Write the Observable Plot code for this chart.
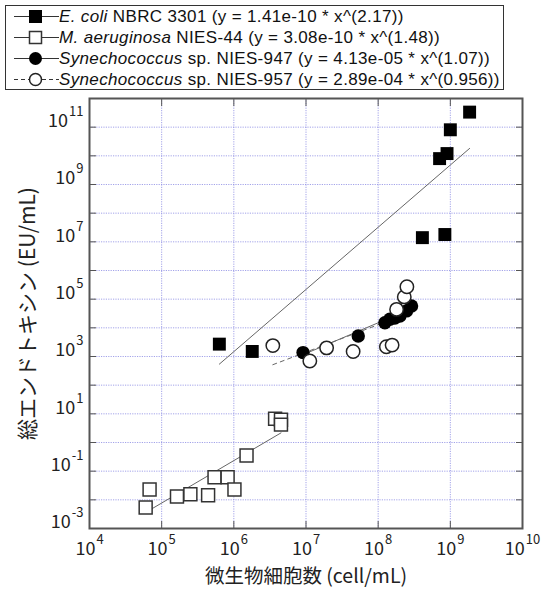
<!DOCTYPE html>
<html><head><meta charset="utf-8">
<script src="https://cdn.jsdelivr.net/npm/d3@7"></script>
<script src="https://cdn.jsdelivr.net/npm/@observablehq/plot@0.6"></script>
<style>
body{margin:0;background:#fff;}
#wrap{position:relative;width:545px;height:592px;overflow:hidden;background:#fff;}
#legend{position:absolute;left:5px;top:5px;width:497px;height:83px;border:1px solid #333;background:#fff;z-index:2;font-family:"Liberation Sans",Arial,sans-serif;font-size:17px;letter-spacing:0.35px;color:#111;}
.row{position:absolute;left:0;height:21px;line-height:21px;white-space:pre;}
.row svg{position:absolute;left:7px;top:0;}
.row span.t{position:absolute;left:53px;top:0;}
#chart{position:absolute;left:0;top:0;}
</style></head>
<body><div id="wrap"><div id="legend"></div><div id="chart"></div></div>
<script>
// ---- data ----
const ecoliX = [6.3e5, 1.8e6, 4.1e8, 8.4e8, 7.1e8, 9.0e8, 1.0e9, 1.85e9];
const ecoliY = [2.7e3, 1.5e3, 1.4e7, 1.8e7, 8.0e9, 1.2e10, 8.1e10, 3.35e11];

const maerX = [6.0e4, 6.8e4, 1.63e5, 2.5e5, 4.4e5, 5.4e5, 8.2e5, 1.02e6, 1.5e6, 3.73e6, 4.5e6, 4.5e6];
const maerY = [5.4e-3, 2.3e-2, 1.3e-2, 1.56e-2, 1.44e-2, 6.1e-2, 6.1e-2, 2.3e-2, 0.35, 6.7, 6.2, 4.2];

const syn947X = [9.1e6, 5.3e7, 1.24e8, 1.45e8, 1.7e8, 2.0e8, 2.47e8, 2.9e8];
const syn947Y = [1.37e3, 5.2e3, 1.5e4, 2.0e4, 2.2e4, 2.6e4, 3.9e4, 5.8e4];

const syn957X = [3.47e6, 1.13e7, 1.93e7, 4.5e7, 1.3e8, 1.56e8, 1.8e8, 2.3e8, 2.5e8];
const syn957Y = [2.4e3, 7.0e2, 2.0e3, 1.5e3, 2.2e3, 2.5e3, 4.4e4, 1.2e5, 2.7e5];

// power-law fits shown in the legend: y = a * x^b
const fitA = [1.41e-10, 3.08e-10, 4.13e-5, 2.89e-4];
const fitB = [2.17, 1.48, 1.07, 0.956];

const seriesItalic = ["E. coli", "M. aeruginosa", "Synechococcus", "Synechococcus"];
const seriesRest = [" NBRC 3301", " NIES-44", " sp. NIES-947", " sp. NIES-957"];
const seriesEq = ["(y = 1.41e-10 * x^(2.17))", "(y = 3.08e-10 * x^(1.48))", "(y = 4.13e-05 * x^(1.07))", "(y = 2.89e-04 * x^(0.956))"];

const xTickExp = [4, 5, 6, 7, 8, 9, 10];
const yLabelExp = [-3, -1, 1, 3, 5, 7, 9, 11];
const yGridExp = [-3,-2,-1,0,1,2,3,4,5,6,7,8,9,10,11,12];

const xTitle = "微生物細胞数 (cell/mL)";
const yTitle = "総エンドトキシン (EU/mL)";

// ---- build tables ----
const allX = [ecoliX, maerX, syn947X, syn957X];
const allY = [ecoliY, maerY, syn947Y, syn957Y];
const pts = allX.map((xs, s) => xs.map((x, i) => ({x, y: allY[s][i], s})));
const fits = allX.map((xs, s) => {
  const lo = d3.min(xs), hi = d3.max(xs);
  return [lo, hi].map(x => ({x, y: fitA[s] * Math.pow(x, fitB[s]), s}));
});
const xTicks = xTickExp.map(e => Math.pow(10, e));
const yLabelTicks = yLabelExp.map(e => Math.pow(10, e));
const yGrid = yGridExp.map(e => Math.pow(10, e));
const expFmt = d => "10^" + Math.round(Math.log10(d));

const gridStyle = {stroke: "#8c8ce4", strokeOpacity: 0.8, strokeWidth: 1, strokeDasharray: "1.2,1.2"};

const plot = Plot.plot({
  width: 545, height: 592,
  marginLeft: 89, marginRight: 23, marginTop: 98, marginBottom: 64,
  style: {fontFamily: "'Noto Sans CJK JP', 'Noto Sans', sans-serif", fontSize: "18px", color: "#222", background: "transparent", overflow: "visible"},
  x: {type: "log", domain: [1e4, 1e10]},
  y: {type: "log", domain: [1e-3, 1e12]},
  marks: [
    Plot.gridX(xTicks, gridStyle),
    Plot.gridY(yGrid, gridStyle),
    Plot.line(fits[0], {x: "x", y: "y", stroke: "#666", strokeWidth: 1}),
    Plot.line(fits[1], {x: "x", y: "y", stroke: "#666", strokeWidth: 1}),
    Plot.line(fits[2], {x: "x", y: "y", stroke: "#666", strokeWidth: 1}),
    Plot.line(fits[3], {x: "x", y: "y", stroke: "#666", strokeWidth: 1, strokeDasharray: "4,4"}),
    Plot.dot(pts[0], {x: "x", y: "y", symbol: "square", r: 7.3, fill: "#000", stroke: "none"}),
    Plot.dot(pts[1], {x: "x", y: "y", symbol: "square", r: 7.3, fill: "#fff", stroke: "#333", strokeWidth: 1.5}),
    Plot.dot(pts[2], {x: "x", y: "y", symbol: "circle", r: 6.7, fill: "#000", stroke: "none"}),
    Plot.dot(pts[3], {x: "x", y: "y", symbol: "circle", r: 6.7, fill: "#fff", stroke: "#222", strokeWidth: 1.5}),
    Plot.frame({stroke: "#555", strokeWidth: 2}),
    Plot.axisX(xTicks, {anchor: "bottom", tickSize: -7, tickFormat: () => "", label: null, stroke: "#555"}),
    Plot.axisX(xTicks, {anchor: "top", tickSize: -7, tickFormat: () => "", label: null, stroke: "#555"}),
    Plot.axisY(yGrid, {anchor: "left", tickSize: -7, tickFormat: () => "", label: null, stroke: "#555"}),
    Plot.axisY(yGrid, {anchor: "right", tickSize: -7, tickFormat: () => "", label: null, stroke: "#555"}),
    Plot.axisX(xTicks, {anchor: "bottom", tickSize: 0, tickPadding: 14, tickFormat: expFmt, label: null, fontSize: 18, fill: "#222"}),
    Plot.axisY(yLabelTicks, {anchor: "left", tickSize: 0, tickPadding: 6, dy: -6, tickFormat: expFmt, label: null, fontSize: 18, fill: "#222"}),
    Plot.text([xTitle], {frameAnchor: "bottom", dy: 54, fontSize: 19.5, fill: "#222"}),
    Plot.text([yTitle], {frameAnchor: "left", textAnchor: "middle", dx: -61, rotate: -90, fontSize: 21, fill: "#222"})
  ]
});

// superscript exponents in tick labels; drop the empty texts of tick-only axes
const svgns = "http://www.w3.org/2000/svg";
plot.querySelectorAll("text").forEach(t => {
  if (t.textContent === "") { t.remove(); return; }
  const m = /^10\^(-?\d+)$/.exec(t.textContent);
  if (!m) return;
  t.textContent = "10";
  const ts = document.createElementNS(svgns, "tspan");
  ts.setAttribute("dy", "-11");
  ts.setAttribute("dx", "1");
  ts.setAttribute("font-size", "13");
  ts.textContent = m[1];
  t.appendChild(ts);
});
document.getElementById("chart").appendChild(plot);

// legend
const legend = document.getElementById("legend");
seriesItalic.forEach((name, i) => {
  const row = document.createElement("div");
  row.className = "row";
  row.style.top = (-0.5 + 21.2 * i) + "px";
  const dash = i === 3 ? ' stroke-dasharray="4,3"' : '';
  let sym;
  if (i === 0) sym = '<rect x="16" y="4" width="13" height="13" fill="#000"/>';
  else if (i === 1) sym = '<rect x="16.5" y="4.5" width="12" height="12" fill="#fff" stroke="#333" stroke-width="1.5"/>';
  else if (i === 2) sym = '<circle cx="22.5" cy="10.5" r="6.5" fill="#000"/>';
  else sym = '<circle cx="22.5" cy="10.5" r="6" fill="#fff" stroke="#222" stroke-width="1.5"/>';
  row.innerHTML = '<svg width="48" height="21"><line x1="1" x2="46" y1="10.5" y2="10.5" stroke="#333" stroke-width="1"' + dash + '/>' + sym + '</svg>' +
    '<span class="t"><i>' + name + '</i>' + seriesRest[i] + ' ' + seriesEq[i] + '</span>';
  legend.appendChild(row);
});
</script>
</body></html>
